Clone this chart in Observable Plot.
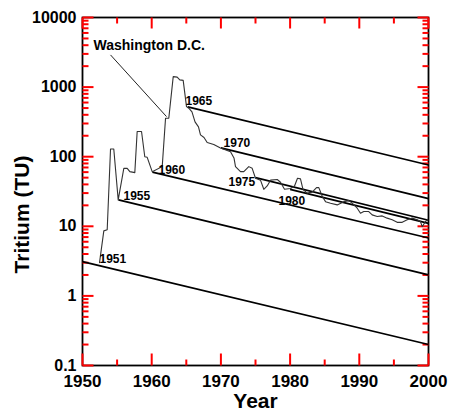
<!DOCTYPE html>
<html>
<head>
<meta charset="utf-8">
<script src="https://cdn.jsdelivr.net/npm/d3@7"></script>
<script src="https://cdn.jsdelivr.net/npm/@observablehq/plot@0.6"></script>
<style>
  html, body { margin: 0; padding: 0; background: white; }
</style>
</head>
<body>
<div id="chart"></div>
<script>
// Washington D.C. tritium in precipitation
const dcYear = [1952.46,1953.08,1953.57,1954.05,1954.52,1955.16,1955.97,1956.46,1956.84,1957.56,
  1957.90,1958.53,1959.00,1959.35,1960.07,1961.52,1962.00,1962.47,1963.11,1963.68,
  1964.06,1964.55,1965.03,1965.36,1965.82,1966.26,1966.76,1967.05,1967.56,1968.02,
  1968.97,1969.94,1971.39,1971.89,1972.11,1972.83,1973.31,1974.03,1974.52,1975.00,
  1975.72,1976.20,1976.69,1977.17,1978.14,1978.61,1979.19,1980.06,1980.64,1981.07,
  1981.50,1981.86,1982.47,1983.19,1983.82,1984.15,1984.64,1985.12,1985.84,1986.81,
  1987.76,1988.48,1988.97,1989.70,1990.17,1990.65,1991.37,1991.86,1992.59,1993.31,
  1994.03,1994.75,1995.48,1996.20,1996.92,1997.64,1998.37,1998.84,1999.09,1999.57,1999.86];
const dcTU = [3.0,8.6,8.9,129,129,24,68,68,61,59,
  230,230,100,98,61,72,357,357,1416,1390,
  1270,1250,525,497,440,316,268,206,189,160,
  150,133,118,96,72,61,61,72,68,49,
  46,34,38,46,47,43,34,35,38,49,
  48,34,30,31,36,36,27,22.6,21.5,20.3,
  22.6,23.4,21.5,18.2,15.4,16.3,16.3,14.6,13.8,14.1,
  13.1,12.4,11.4,11.4,12.4,13.1,12.4,11.7,9.9,11.7,12.6];

// Radioactive decay lines (start point and value in 2000)
const decayName = ["1951","1955","1960","1965","1970","1975","1980"];
const decayStartYear = [1950, 1955.2, 1960.1, 1965.2, 1970.0, 1975.0, 1980.0];
const decayStartTU = [3.1, 24, 60, 520, 134, 50, 34];
const decayEndYear = [2000, 2000, 2000, 2000, 2000, 2000, 2000];
const decayEndTU = [0.2, 2.0, 6.8, 76, 25, 12.2, 11];
const decayLabelYear = [1952.46, 1955.92, 1960.98, 1964.88, 1970.38, 1971.1, 1978.32];
const decayLabelTU = [2.98, 24, 56.6, 555, 138, 38, 20.3];

// Annotation
const noteText = ["Washington D.C."];
const noteYear = [1951.59];
const noteTU = [3423];
const pointerYear = [1954.05, 1962.14];
const pointerTU = [2900, 377];

// Axes
const xTicks = [1950, 1960, 1970, 1980, 1990, 2000];
const xTickLabels = ["1950", "1960", "1970", "1980", "1990", "2000"];
const xMinor = [1955, 1965, 1975, 1985, 1995];
const yTicks = [0.1, 1, 10, 100, 1000, 10000];
const yTickLabels = ["0.1", "1", "10", "100", "1000", "10000"];
const yMinor = [];
for (const d of [0.1, 1, 10, 100, 1000]) for (let k = 2; k <= 9; k++) yMinor.push(+(d * k).toPrecision(3));
const xTitle = "Year";
const yTitle = "Tritium (TU)";

const dc = dcYear.map((y, i) => ({year: y, tu: dcTU[i]}));
const decay = decayName.map((n, i) => ({
  name: n, x1: decayStartYear[i], y1: decayStartTU[i], x2: decayEndYear[i], y2: decayEndTU[i],
  lx: decayLabelYear[i], ly: decayLabelTU[i]
}));
const note = noteText.map((t, i) => ({t, x: noteYear[i], y: noteTU[i]}));
const pointer = [{x1: pointerYear[0], y1: pointerTU[0], x2: pointerYear[1], y2: pointerTU[1]}];

const W = 450, H = 412, mL = 82, mR = 22, mT = 17, mB = 47;
const fw = W - mL - mR, fh = H - mT - mB;
const xDom = [1950, 2000], yDom = [0.1, 10000];
const yrPerPx = (xDom[1] - xDom[0]) / fw;
const decPerPx = Math.log10(yDom[1] / yDom[0]) / fh;
const upBy = (v, px) => v * Math.pow(10, px * decPerPx);
const tickSegs = [];
for (const x of xTicks) {
  tickSegs.push({x1: x, x2: x, y1: yDom[0], y2: upBy(yDom[0], 12)});
  tickSegs.push({x1: x, x2: x, y1: yDom[1], y2: upBy(yDom[1], -11)});
}
for (const x of xMinor) {
  tickSegs.push({x1: x, x2: x, y1: yDom[0], y2: upBy(yDom[0], 6)});
  tickSegs.push({x1: x, x2: x, y1: yDom[1], y2: upBy(yDom[1], -6)});
}
for (const y of yTicks) {
  tickSegs.push({y1: y, y2: y, x1: xDom[0], x2: xDom[0] + 11 * yrPerPx});
  tickSegs.push({y1: y, y2: y, x1: xDom[1], x2: xDom[1] - 11 * yrPerPx});
}
for (const y of yMinor) {
  tickSegs.push({y1: y, y2: y, x1: xDom[0], x2: xDom[0] + 6 * yrPerPx});
  tickSegs.push({y1: y, y2: y, x1: xDom[1], x2: xDom[1] - 6 * yrPerPx});
}
const font = "'Liberation Sans', Arial, Helvetica, sans-serif";

const chart = Plot.plot({
  width: W, height: H,
  marginLeft: mL, marginRight: mR, marginTop: mT, marginBottom: mB,
  x: {domain: xDom},
  y: {type: "log", domain: yDom},
  style: {fontFamily: font, fontWeight: "bold", background: "white", color: "black", overflow: "visible"},
  marks: [
    Plot.frame({stroke: "black", strokeWidth: 1.8}),
    Plot.link(tickSegs, {x1: "x1", y1: "y1", x2: "x2", y2: "y2", stroke: "red", strokeWidth: 2}),
    Plot.axisX({ticks: xTicks, tickSize: 0, tickPadding: 9, fontSize: 17, fontWeight: "bold",
      tickFormat: d => xTickLabels[xTicks.indexOf(d)], label: null}),
    Plot.axisY({ticks: yTicks, tickSize: 0, tickPadding: 6, fontSize: 16, fontWeight: "bold",
      tickFormat: d => yTickLabels[yTicks.indexOf(d)], label: null}),
    Plot.link(decay, {x1: "x1", y1: "y1", x2: "x2", y2: "y2", stroke: "black", strokeWidth: 1.7}),
    Plot.line(dc, {x: "year", y: "tu", stroke: "#333", strokeWidth: 1.1}),
    Plot.link(pointer, {x1: "x1", y1: "y1", x2: "x2", y2: "y2", stroke: "#222", strokeWidth: 1}),
    Plot.text(decay, {x: "lx", y: "ly", text: "name", textAnchor: "start", lineAnchor: "bottom",
      fontSize: 12, fontWeight: "bold", fill: "black"}),
    Plot.text(note, {x: "x", y: "y", text: "t", textAnchor: "start", lineAnchor: "bottom",
      fontSize: 14, fontWeight: "bold", fill: "black"}),
    Plot.text([xTitle], {frameAnchor: "bottom", text: d => d, dy: 42, textAnchor: "middle", lineAnchor: "bottom",
      fontSize: 21, fontWeight: "bold", fill: "black"}),
    Plot.text([yTitle], {frameAnchor: "left", text: d => d, rotate: -90, dx: -54, dy: 23,
      textAnchor: "middle", lineAnchor: "bottom", fontSize: 21, fontWeight: "bold", fill: "black"})
  ]
});
document.getElementById("chart").appendChild(chart);
</script>
</body>
</html>
